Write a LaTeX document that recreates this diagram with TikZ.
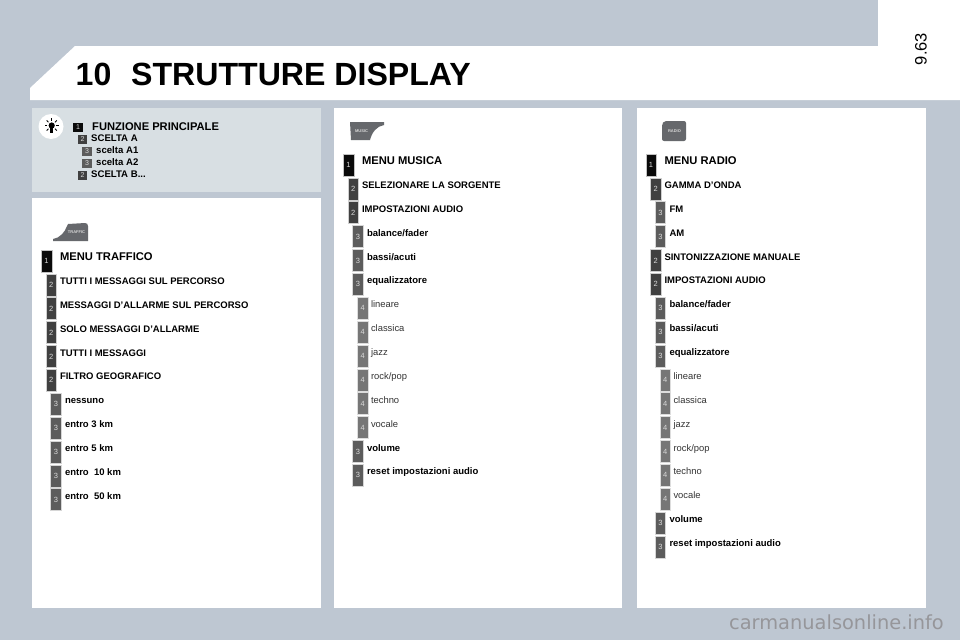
\documentclass[tikz,border=0pt]{standalone}
\usepackage{fontspec}
\setmainfont{Liberation Sans}
\newfontfamily\wmfont{DejaVu Sans}
\usetikzlibrary{positioning}
\definecolor{pagebg}{HTML}{BEC7D2}
\definecolor{legendbg}{HTML}{D8DFE3}
\definecolor{level1}{HTML}{0A0A0A}
\definecolor{level2}{HTML}{404040}
\definecolor{level3}{HTML}{5C5C5C}
\definecolor{level4}{HTML}{767676}
\definecolor{tabgray}{HTML}{66686C}
\definecolor{wmgray}{HTML}{96969A}
\tikzset{
    tagbox/.style={rectangle, draw=#1!25!white, line width=0.5pt, fill=#1,
                   minimum width=10.5pt, minimum height=22pt, inner sep=0pt,
                   text=white!85!black, font=\fontsize{7.5}{8}\selectfont},
    tag1/.style={tagbox=level1},
    tag2/.style={tagbox=level2},
    tag3/.style={tagbox=level3},
    tag4/.style={tagbox=level4},
    itemtext/.style={anchor=base west, inner sep=0pt, text=black},
    item1/.style={itemtext, font=\fontsize{11.2}{12}\bfseries\selectfont},
    item2/.style={itemtext, font=\fontsize{9.5}{11}\bfseries\selectfont},
    item3/.style={itemtext, font=\fontsize{9.5}{11}\bfseries\selectfont},
    item4/.style={itemtext, text=black!80, font=\fontsize{9.4}{11}\selectfont},
    panel/.style={rectangle, fill=white, draw=none, anchor=north west, inner sep=0pt},
    smalltag/.style={rectangle, fill=#1, draw=none, minimum size=9.5pt, inner sep=0pt,
                     text=white!85!black, font=\fontsize{7}{7}\selectfont},
    legendtext/.style={itemtext, font=\fontsize{9.6}{11}\bfseries\selectfont},
    tablabel/.style={text=white!85!black, inner sep=0pt, font=\fontsize{4}{4}\bfseries\selectfont}
}
% one column of tags and entries: prefix, x of level 1 tag, y of first row, rows
\newcommand{\menulist}[4]{
    \foreach \lev/\txt [count=\i from 0] in {#4} {
        \pgfmathsetmacro\bx{#2+4.7*(\lev-1)}
        \pgfmathsetmacro\tx{#2+13.3+{0,0,5,9}[\lev-1]}
        \pgfmathsetmacro\by{#3+23.87*\i}
        \node[tag\lev] (tag#1\i) at (\bx,\by) {\raisebox{-2pt}{\lev}};
        \node[item\lev] (item#1\i) at (\tx,\by-0.4) {\txt};
    }
}

\begin{document}
\begin{tikzpicture}[x=1pt, y=-1pt]
\useasboundingbox (0,0) rectangle (960,640);

% page and title band
\fill[pagebg] (0,0) rectangle (960,640);
\fill[white] (30,100) -- (30,88) -- (75,46) -- (878,46) -- (878,0) -- (960,0) -- (960,100) -- cycle;
\node[font=\fontsize{32.1}{34}\bfseries\selectfont, anchor=base west, inner sep=0pt] (chapter) at (75.5,85.5) {10};
\node[font=\fontsize{32.1}{34}\bfseries\selectfont, anchor=base west, inner sep=0pt] (title) at (131,85.5) {STRUTTURE DISPLAY};
\node[font=\fontsize{16.5}{18}\selectfont, rotate=90, inner sep=0pt] (pagenum) at (921,49) {9.63};

% Panels
\node[panel, fill=legendbg, minimum width=289pt, minimum height=84pt] (legend) at (32,108) {};
\node[panel, minimum width=289pt, minimum height=410pt] (traffic) at (32,198) {};
\node[panel, minimum width=288pt, minimum height=500pt] (music) at (334,108) {};
\node[panel, minimum width=289pt, minimum height=500pt] (radio) at (637,108) {};

% Legend
\node[circle, fill=white, minimum size=25pt, inner sep=0pt] (bulb) at (51,126.5) {};
\fill[black] (51.7,125.5) circle (3.1pt);
\fill[black] (50,128) rectangle (53.4,132.5);
\foreach \ang in {0,45,135,180,225,315,270}
    \draw[black, line width=0.8pt] (51.7,125.5) ++(\ang:4.6) -- ++(\ang:2.6);
\node[smalltag=level1] (key1) at (78,127.5) {1};
\node[smalltag=level2] (key2a) at (82.5,139.5) {2};
\node[smalltag=level3] (key3a) at (87,151.5) {3};
\node[smalltag=level3] (key3b) at (87,163.5) {3};
\node[smalltag=level2] (key2b) at (82.5,175.5) {2};
\node[legendtext, font=\fontsize{11.15}{12}\bfseries\selectfont] (keytext1) at (92,130) {FUNZIONE PRINCIPALE};
\node[legendtext] (keytext2a) at (91,141.5) {SCELTA A};
\node[legendtext] (keytext3a) at (96,153.5) {scelta A1};
\node[legendtext] (keytext3b) at (96,165.5) {scelta A2};
\node[legendtext] (keytext2b) at (91,177.5) {SCELTA B...};

% Tabs
\fill[tabgray] (53,241) -- (53,239) .. controls (60,238) and (65,232) .. (67,226) -- (68,224) -- (85,223)
    .. controls (87,223) and (88,224) .. (88,226) -- (88,241) -- cycle;
\node[tablabel] (traffictab) at (76.5,232.5) {TRAFFIC};
\fill[tabgray] (350,122) -- (384,122) -- (384,125) .. controls (377,126) and (372,132) .. (370,140)
    -- (351,140) -- cycle;
\node[tablabel] (musictab) at (361.5,131.5) {MUSIC};
\fill[tabgray, rounded corners=2pt] (664,121) -- (686,121) -- (686,141) -- (662,141) -- (662,124) -- cycle;
\node[tablabel] (radiotab) at (674.5,131) {RADIO};

% Traffic column
\menulist{t}{46.5}{261}{1/MENU TRAFFICO, 2/TUTTI I MESSAGGI SUL PERCORSO,
    2/MESSAGGI D'ALLARME SUL PERCORSO, 2/SOLO MESSAGGI D'ALLARME, 2/TUTTI I MESSAGGI,
    2/FILTRO GEOGRAFICO, 3/nessuno, 3/entro 3 km, 3/entro 5 km, 3/entro~ 10 km, 3/entro~ 50 km}

% Music column
\menulist{m}{348.5}{165}{1/MENU MUSICA, 2/SELEZIONARE LA SORGENTE, 2/IMPOSTAZIONI AUDIO,
    3/{balance/fader}, 3/{bassi/acuti}, 3/equalizzatore, 4/lineare, 4/classica, 4/jazz,
    4/{rock/pop}, 4/techno, 4/vocale, 3/volume, 3/reset impostazioni audio}

% Radio column
\menulist{r}{651}{165}{1/MENU RADIO, 2/GAMMA D'ONDA, 3/FM, 3/AM, 2/SINTONIZZAZIONE MANUALE,
    2/IMPOSTAZIONI AUDIO, 3/{balance/fader}, 3/{bassi/acuti}, 3/equalizzatore, 4/lineare,
    4/classica, 4/jazz, 4/{rock/pop}, 4/techno, 4/vocale, 3/volume, 3/reset impostazioni audio}

% Footer mark
\node[text=wmgray, font=\wmfont\fontsize{19.4}{20}\selectfont, anchor=base east, inner sep=0pt] (footer) at (944,629) {carmanualsonline.info};

\end{tikzpicture}
\end{document}
